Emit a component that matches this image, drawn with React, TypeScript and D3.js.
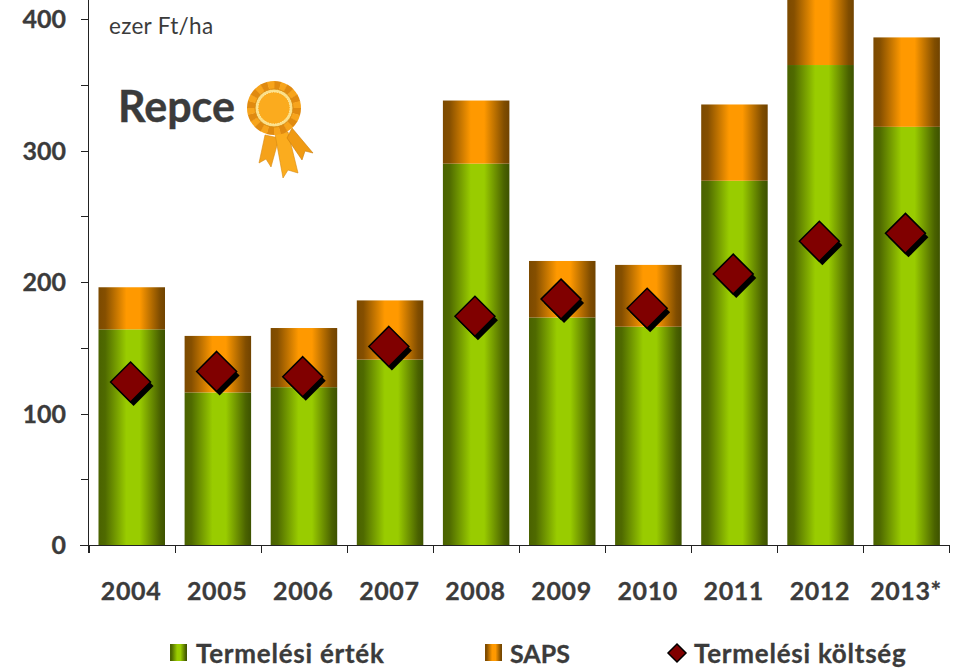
import React from "react";
import * as d3 from "d3";

const years = ["2004", "2005", "2006", "2007", "2008", "2009", "2010", "2011", "2012", "2013*"];
const termelesiErtek = [164, 116, 120, 141, 290, 173, 166, 277, 365, 318];
const saps = [32, 43, 45, 45, 48, 43, 47, 58, 60, 68];
const koltseg = [124, 132, 128, 151, 174, 187, 180, 206, 231, 237];
const yMajor = [0, 100, 200, 300, 400];
const yMinor = [50, 150, 250, 350];
const legendLabels = ["Termelési érték", "SAPS", "Termelési költség"];

const W = 962, H = 670;
const FONT = "Lato, Carlito, 'Open Sans', sans-serif";
const TXT = "#3b3b3b";

const y = d3.scaleLinear().domain([0, 400]).range([545, 19]);
const xStep = d3.scaleBand().domain(years).range([88.5, 949.5]).paddingInner(0).paddingOuter(0);
const barPad = 10;

function Rosette() {
  const cx = 274, cy = 108;
  const n = 24;
  const petals = d3.range(n).map((i) => (i / n) * 2 * Math.PI);
  const arc = d3.arc();
  return (
    <g>
      <polygon points="265,135 259,163 266,159 271,167 279,138" fill="#f5a21a" stroke="#d98a10" strokeWidth={0.6} />
      <polygon points="275,134 283,178 288,170 298,173 288,132" fill="#fbac1e" stroke="#d98a10" strokeWidth={0.6} />
      <polygon points="292,128 313,153 305,151 302,160 287,138" fill="#f09a12" stroke="#c97c08" strokeWidth={0.6} />
      {petals.map((a, i) => (
        <path
          key={i}
          d={arc({ innerRadius: 18, outerRadius: 27, startAngle: a, endAngle: a + (2 * Math.PI) / n + 0.02 }) as string}
          transform={`translate(${cx},${cy})`}
          fill={i % 2 ? "#f7a41c" : "#e08a10"}
        />
      ))}
      <circle cx={cx} cy={cy} r={19} fill="#fbe08a" stroke="#d98a10" strokeWidth={1} />
      <circle cx={cx} cy={cy} r={16} fill="#fbab1e" stroke="#fff0b0" strokeWidth={1} strokeDasharray="1.5 1" />
    </g>
  );
}

export default function App() {
  React.useEffect(() => {
    document.body.style.margin = "0";
  }, []);
  const diamond = (r: number) => `M0,${-r}L${r},0L0,${r}L${-r},0Z`;
  return (
    <svg width={W} height={H} style={{ position: "absolute", left: 0, top: 0, display: "block" }} fontFamily={FONT}>
      <defs>
        <linearGradient id="gGreen" x1="0" x2="1" y1="0" y2="0">
          <stop offset="0" stopColor="#4a6200" />
          <stop offset="0.1" stopColor="#4f6a00" />
          <stop offset="0.42" stopColor="#99cc00" />
          <stop offset="0.62" stopColor="#99cc00" />
          <stop offset="0.92" stopColor="#4a6200" />
          <stop offset="1" stopColor="#3d5200" />
        </linearGradient>
        <linearGradient id="gOrange" x1="0" x2="1" y1="0" y2="0">
          <stop offset="0" stopColor="#7c4a00" />
          <stop offset="0.1" stopColor="#854f00" />
          <stop offset="0.42" stopColor="#ff9900" />
          <stop offset="0.62" stopColor="#ff9900" />
          <stop offset="0.92" stopColor="#804d00" />
          <stop offset="1" stopColor="#704300" />
        </linearGradient>
      </defs>

      {years.map((yr, i) => {
        const x0 = (xStep(yr) as number) + barPad;
        const w = xStep.bandwidth() - 2 * barPad + 0.4;
        const g = termelesiErtek[i];
        const t = g + saps[i];
        return (
          <g key={yr}>
            <rect x={x0} y={y(g)} width={w} height={y(0) - y(g)} fill="url(#gGreen)" />
            <rect x={x0} y={y(t)} width={w} height={y(g) - y(t)} fill="url(#gOrange)" />
          </g>
        );
      })}

      {/* axes */}
      <line x1={88.5} x2={88.5} y1={0} y2={553} stroke="#222" strokeWidth={1} />
      <line x1={80} x2={949.5} y1={545.5} y2={545.5} stroke="#222" strokeWidth={1} />
      {yMajor.concat(yMinor).map((v) => (
        <line key={v} x1={81} x2={88.5} y1={Math.round(y(v)) + 0.5} y2={Math.round(y(v)) + 0.5} stroke="#222" />
      ))}
      {years.map((yr) => {
        const x0 = Math.round(xStep(yr) as number) + 0.5;
        return <line key={yr} x1={x0} x2={x0} y1={545} y2={553} stroke="#222" />;
      })}
      <line x1={949.5} x2={949.5} y1={545} y2={553} stroke="#222" />

      {yMajor.map((v) => (
        <text key={v} x={66} y={y(v) + 9} textAnchor="end" fontSize={25} fontWeight={700} fill={TXT} stroke={TXT} strokeWidth={0.3}>
          {v}
        </text>
      ))}
      {years.map((yr) => (
        <text
          key={yr}
          x={(xStep(yr) as number) + xStep.bandwidth() / 2 - 0.5}
          y={600}
          textAnchor="middle"
          fontSize={25}
          fontWeight={700}
          letterSpacing={0.6}
          fill={TXT}
          stroke={TXT}
          strokeWidth={0.3}
        >
          {yr}
        </text>
      ))}

      {koltseg.map((v, i) => {
        const cx = (xStep(years[i]) as number) + xStep.bandwidth() / 2 - 1;
        return (
          <g key={years[i]}>
            <path d={diamond(20)} transform={`translate(${cx + 3},${y(v) + 4})`} fill="#000" />
            <path d={diamond(20)} transform={`translate(${cx},${y(v)})`} fill="#800000" stroke="#000" strokeWidth={1.5} />
          </g>
        );
      })}

      <text x={109} y={34} fontSize={22.5} letterSpacing={0.3} fill={TXT}>ezer Ft/ha</text>
      <text x={118} y={122} fontSize={43} fontWeight={700} fill={TXT} stroke={TXT} strokeWidth={0.4}>Repce</text>
      <Rosette />

      {/* legend */}
      <rect x={170} y={644} width={17} height={17} fill="url(#gGreen)" />
      <text x={196} y={663} fontSize={26} fontWeight={700} letterSpacing={0.75} fill={TXT} stroke={TXT} strokeWidth={0.3}>{legendLabels[0]}</text>
      <rect x={485} y={644} width={17} height={17} fill="url(#gOrange)" />
      <text x={510} y={663} fontSize={25} fontWeight={700} fill={TXT} stroke={TXT} strokeWidth={0.3}>{legendLabels[1]}</text>
      <path d={diamond(9)} transform="translate(677,653)" fill="#800000" stroke="#000" strokeWidth={1.5} />
      <text x={694} y={663} fontSize={26} fontWeight={700} letterSpacing={0.75} fill={TXT} stroke={TXT} strokeWidth={0.3}>{legendLabels[2]}</text>
    </svg>
  );
}
